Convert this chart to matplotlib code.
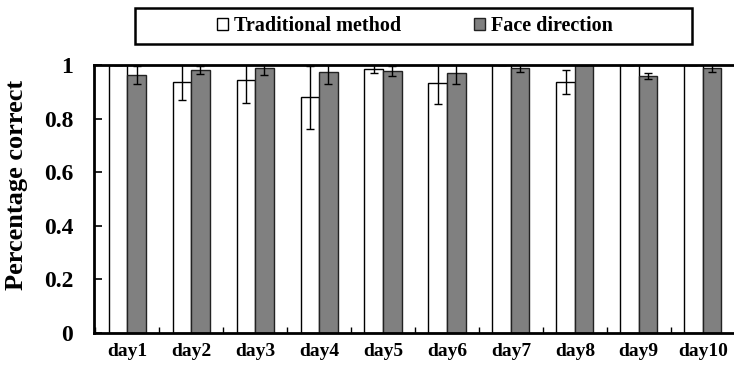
import numpy as np
import matplotlib
matplotlib.use('Agg')
import matplotlib.pyplot as plt
from matplotlib.ticker import FuncFormatter, FixedLocator
from matplotlib.patches import Rectangle

days = ['day1', 'day2', 'day3', 'day4', 'day5', 'day6', 'day7', 'day8', 'day9', 'day10']
trad = [1.0, 0.938, 0.944, 0.879, 0.986, 0.934, 1.0, 0.938, 1.0, 1.0]
trad_err = [0.0, 0.069, 0.085, 0.118, 0.017, 0.078, 0.0, 0.045, 0.0, 0.0]
face = [0.963, 0.981, 0.988, 0.973, 0.978, 0.971, 0.99, 1.0, 0.959, 0.99]
face_err = [0.034, 0.014, 0.025, 0.045, 0.02, 0.042, 0.017, 0.0, 0.011, 0.017]

plt.rcParams['font.family'] = ['Liberation Serif', 'DejaVu Serif']
plt.rcParams['font.weight'] = 'bold'

W, H = 734, 366
fig = plt.figure(figsize=(W/100, H/100), dpi=100)
ax = fig.add_axes([94/W, 33/H, 642/W, 268/H])

x = np.arange(len(days))
w = 0.29
ekw = dict(elinewidth=1.0, capthick=1.0, ecolor='black')
ax.bar(x - w/2, trad, w, color='white', edgecolor='black', linewidth=1.0,
       yerr=trad_err, capsize=2.6, error_kw=ekw, label='Traditional method')
ax.bar(x + w/2, face, w, color='#808080', edgecolor='#222222', linewidth=1.0,
       yerr=face_err, capsize=2.6, error_kw=ekw, label='Face direction')

ax.set_xlim(-0.52, len(days) - 0.48)
ax.set_ylim(0, 1)
ax.set_yticks([0, 0.2, 0.4, 0.6, 0.8, 1.0])
ax.yaxis.set_major_formatter(FuncFormatter(lambda v, p: '%g' % round(v, 1)))
ax.set_xticks(x)
ax.set_xticklabels(days)
ax.xaxis.set_minor_locator(FixedLocator(np.arange(len(days) + 1) - 0.5))
ax.tick_params(axis='x', which='major', length=0, labelsize=14, pad=7)
ax.tick_params(axis='x', which='minor', direction='in', length=4, width=1)
ax.tick_params(axis='y', direction='in', length=6, width=1.2, labelsize=17, pad=15)
for s in ax.spines.values():
    s.set_linewidth(2)
ax.set_ylabel('Percentage correct', fontsize=19, fontweight='bold')
ax.yaxis.set_label_coords(-(94 - 28)/642, (333 - 185)/268)

# legend box drawn in figure pixels
fig.patches.append(Rectangle((135/W, 1 - 44/H), (692 - 135)/W, 36/H, transform=fig.transFigure,
                             fill=False, edgecolor='black', linewidth=1.8))
leg = fig.legend(loc='center', bbox_to_anchor=(415/W, 1 - 26/H), ncol=2, frameon=False,
                 fontsize=14.5, handlelength=0.55, handleheight=0.55, handletextpad=0.3,
                 columnspacing=3.6, borderpad=0)

fig.savefig('out.png', dpi=100)
